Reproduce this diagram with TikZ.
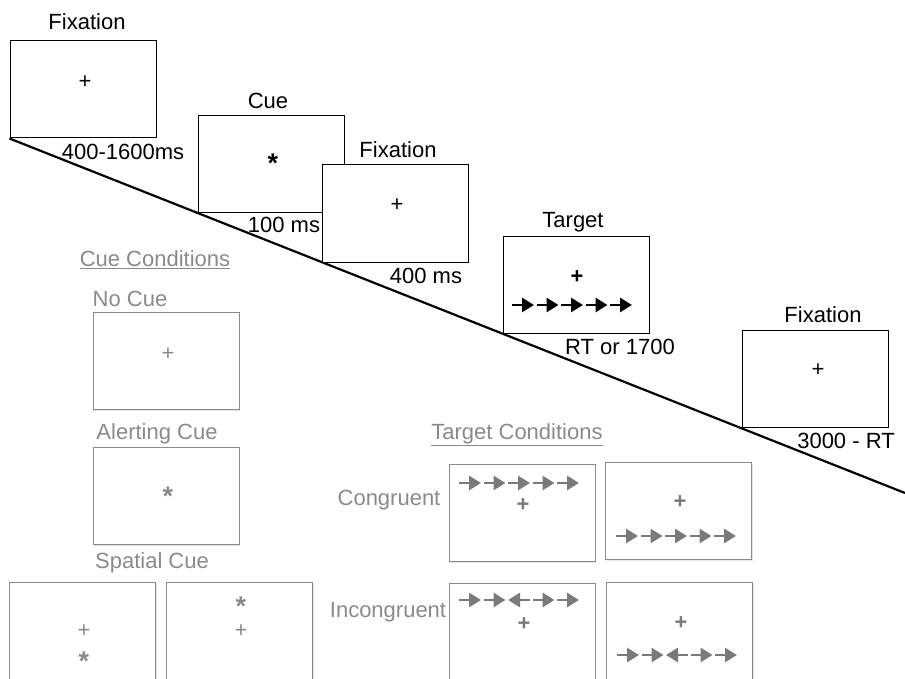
\documentclass[tikz,border=0pt]{standalone}
\usepackage{fontspec}
\setmainfont{Liberation Sans}
\usetikzlibrary{positioning,arrows.meta,shadows,backgrounds}

\definecolor{condgray}{HTML}{8A8A8A}
\definecolor{flankgray}{HTML}{7A7A7A}
\newcommand{\lblsize}{\fontsize{22}{25}\selectfont}
\newcommand{\starsize}{\fontsize{27}{30}\selectfont}

% one row of five flanker arrows: start x, y, colour, directions
\newcommand{\flankrow}[4]{%
  \foreach \d [count=\i from 0] in {#4} {
    \pgfmathsetmacro{\cx}{#1+24.5*\i+11}
    \draw[flank, draw=#3, fill=#3] (\cx-11*\d,#2) -- (\cx+11*\d,#2);
  }%
}

\begin{document}
\begin{tikzpicture}[x=1pt,y=-1pt]

    \tikzset{screen/.style = {rectangle, draw, line width=1pt, minimum width=146pt, minimum height=97pt, inner sep=0pt, fill=white}}
    \tikzset{condscreen/.style = {screen, draw=condgray, drop shadow={shadow xshift=1pt, shadow yshift=-1.5pt, fill=black!20}}}
    \tikzset{lbl/.style = {font=\lblsize, inner sep=0pt}}
    \tikzset{graylbl/.style = {lbl, text=condgray}}
    \tikzset{symb/.style = {font=\lblsize, inner sep=0pt}}
    \tikzset{boldsymb/.style = {symb, font=\lblsize\bfseries}}
    \tikzset{starsymb/.style = {symb, font=\starsize\bfseries}}
    \tikzset{flank/.style = {line width=2.8pt, -{Triangle[length=12pt,width=14pt]}}}
    \tikzset{timeline/.style = {line width=2.2pt}}

    \useasboundingbox (0,0) rectangle (905,679);
    \clip (0,0) rectangle (905,679);

    % trial sequence
    \node (fixA) [screen] at (83,89.5) {};
    \node (cue) [screen] at (271.5,164.5) {};
    \node (fixB) [screen] at (395.5,213.5) {};
    \node (target) [screen] at (576,285) {};
    \node (fixC) [screen] at (815,379) {};

    \coordinate (lineend) at (905,493);
    \begin{scope}[on background layer]
        \draw [timeline] (fixA.south west) -- (lineend);
    \end{scope}

    \node (fixAlbl) [lbl] at (87,22) {Fixation};
    \node (cuelbl) [lbl] at (268,101) {Cue};
    \node (fixBlbl) [lbl] at (398,150) {Fixation};
    \node (targetlbl) [lbl] at (573,222) {Target};
    \node (fixClbl) [lbl] at (823,315) {Fixation};

    \node (fixAdur) [lbl] at (123,152) {400-1600ms};
    \node (cuedur) [lbl] at (284,225) {100 ms};
    \node (fixBdur) [lbl] at (426,276) {400 ms};
    \node (targetdur) [lbl] at (620,347) {RT or 1700};
    \node (fixCdur) [lbl] at (846,441) {3000 - RT};

    \node (fixAplus) [symb] at (85,82) {+};
    \node (cuestar) [starsymb] at (273,163) {*};
    \node (fixBplus) [symb] at (397,205) {+};
    \node (targetplus) [boldsymb] at (577,277) {+};
    \flankrow{512}{305}{black}{1,1,1,1,1}
    \node (fixCplus) [symb] at (818,370) {+};

    % cue conditions
    \node (cuecond) [graylbl] at (155,260) {\underline{Cue Conditions}};
    \node (nocuelbl) [graylbl] at (130,299) {No Cue};
    \node (nocue) [condscreen] at (166,361) {};
    \node (nocueplus) [symb, text=condgray] at (168,354) {+};
    \node (alertlbl) [graylbl] at (157,434) {Alerting Cue};
    \node (alert) [condscreen] at (166,496) {};
    \node (alertstar) [starsymb, text=condgray] at (168,496) {*};
    \node (spatlbl) [graylbl] at (152,563) {Spatial Cue};
    \node (spatL) [condscreen] at (82.5,631) {};
    \node (spatR) [condscreen] at (239.5,631) {};
    \node (spatLplus) [symb, text=condgray] at (84,631) {+};
    \node (spatLstar) [starsymb, text=condgray] at (84,661) {*};
    \node (spatRstar) [starsymb, text=condgray] at (241,606) {*};
    \node (spatRplus) [symb, text=condgray] at (241,631) {+};

    % target conditions
    \node (tgtcond) [graylbl] at (517,435) {\underline{Target Conditions}};
    \node (conglbl) [graylbl] at (389,500) {Congruent};
    \node (congA) [condscreen] at (522,513) {};
    \node (congB) [condscreen] at (678.5,511) {};
    \node (inclbl) [graylbl] at (388,612) {Incongruent};
    \node (incA) [condscreen] at (522,632) {};
    \node (incB) [condscreen] at (679.5,631) {};

    \flankrow{459}{483}{flankgray}{1,1,1,1,1}
    \node (congAplus) [boldsymb, text=flankgray] at (523,505) {+};
    \node (congBplus) [boldsymb, text=flankgray] at (680,502) {+};
    \flankrow{616}{536}{flankgray}{1,1,1,1,1}

    \flankrow{459}{600}{flankgray}{1,1,-1,1,1}
    \node (incAplus) [boldsymb, text=flankgray] at (524,624) {+};
    \node (incBplus) [boldsymb, text=flankgray] at (681,623) {+};
    \flankrow{617}{655}{flankgray}{1,1,-1,1,1}

\end{tikzpicture}
\end{document}
